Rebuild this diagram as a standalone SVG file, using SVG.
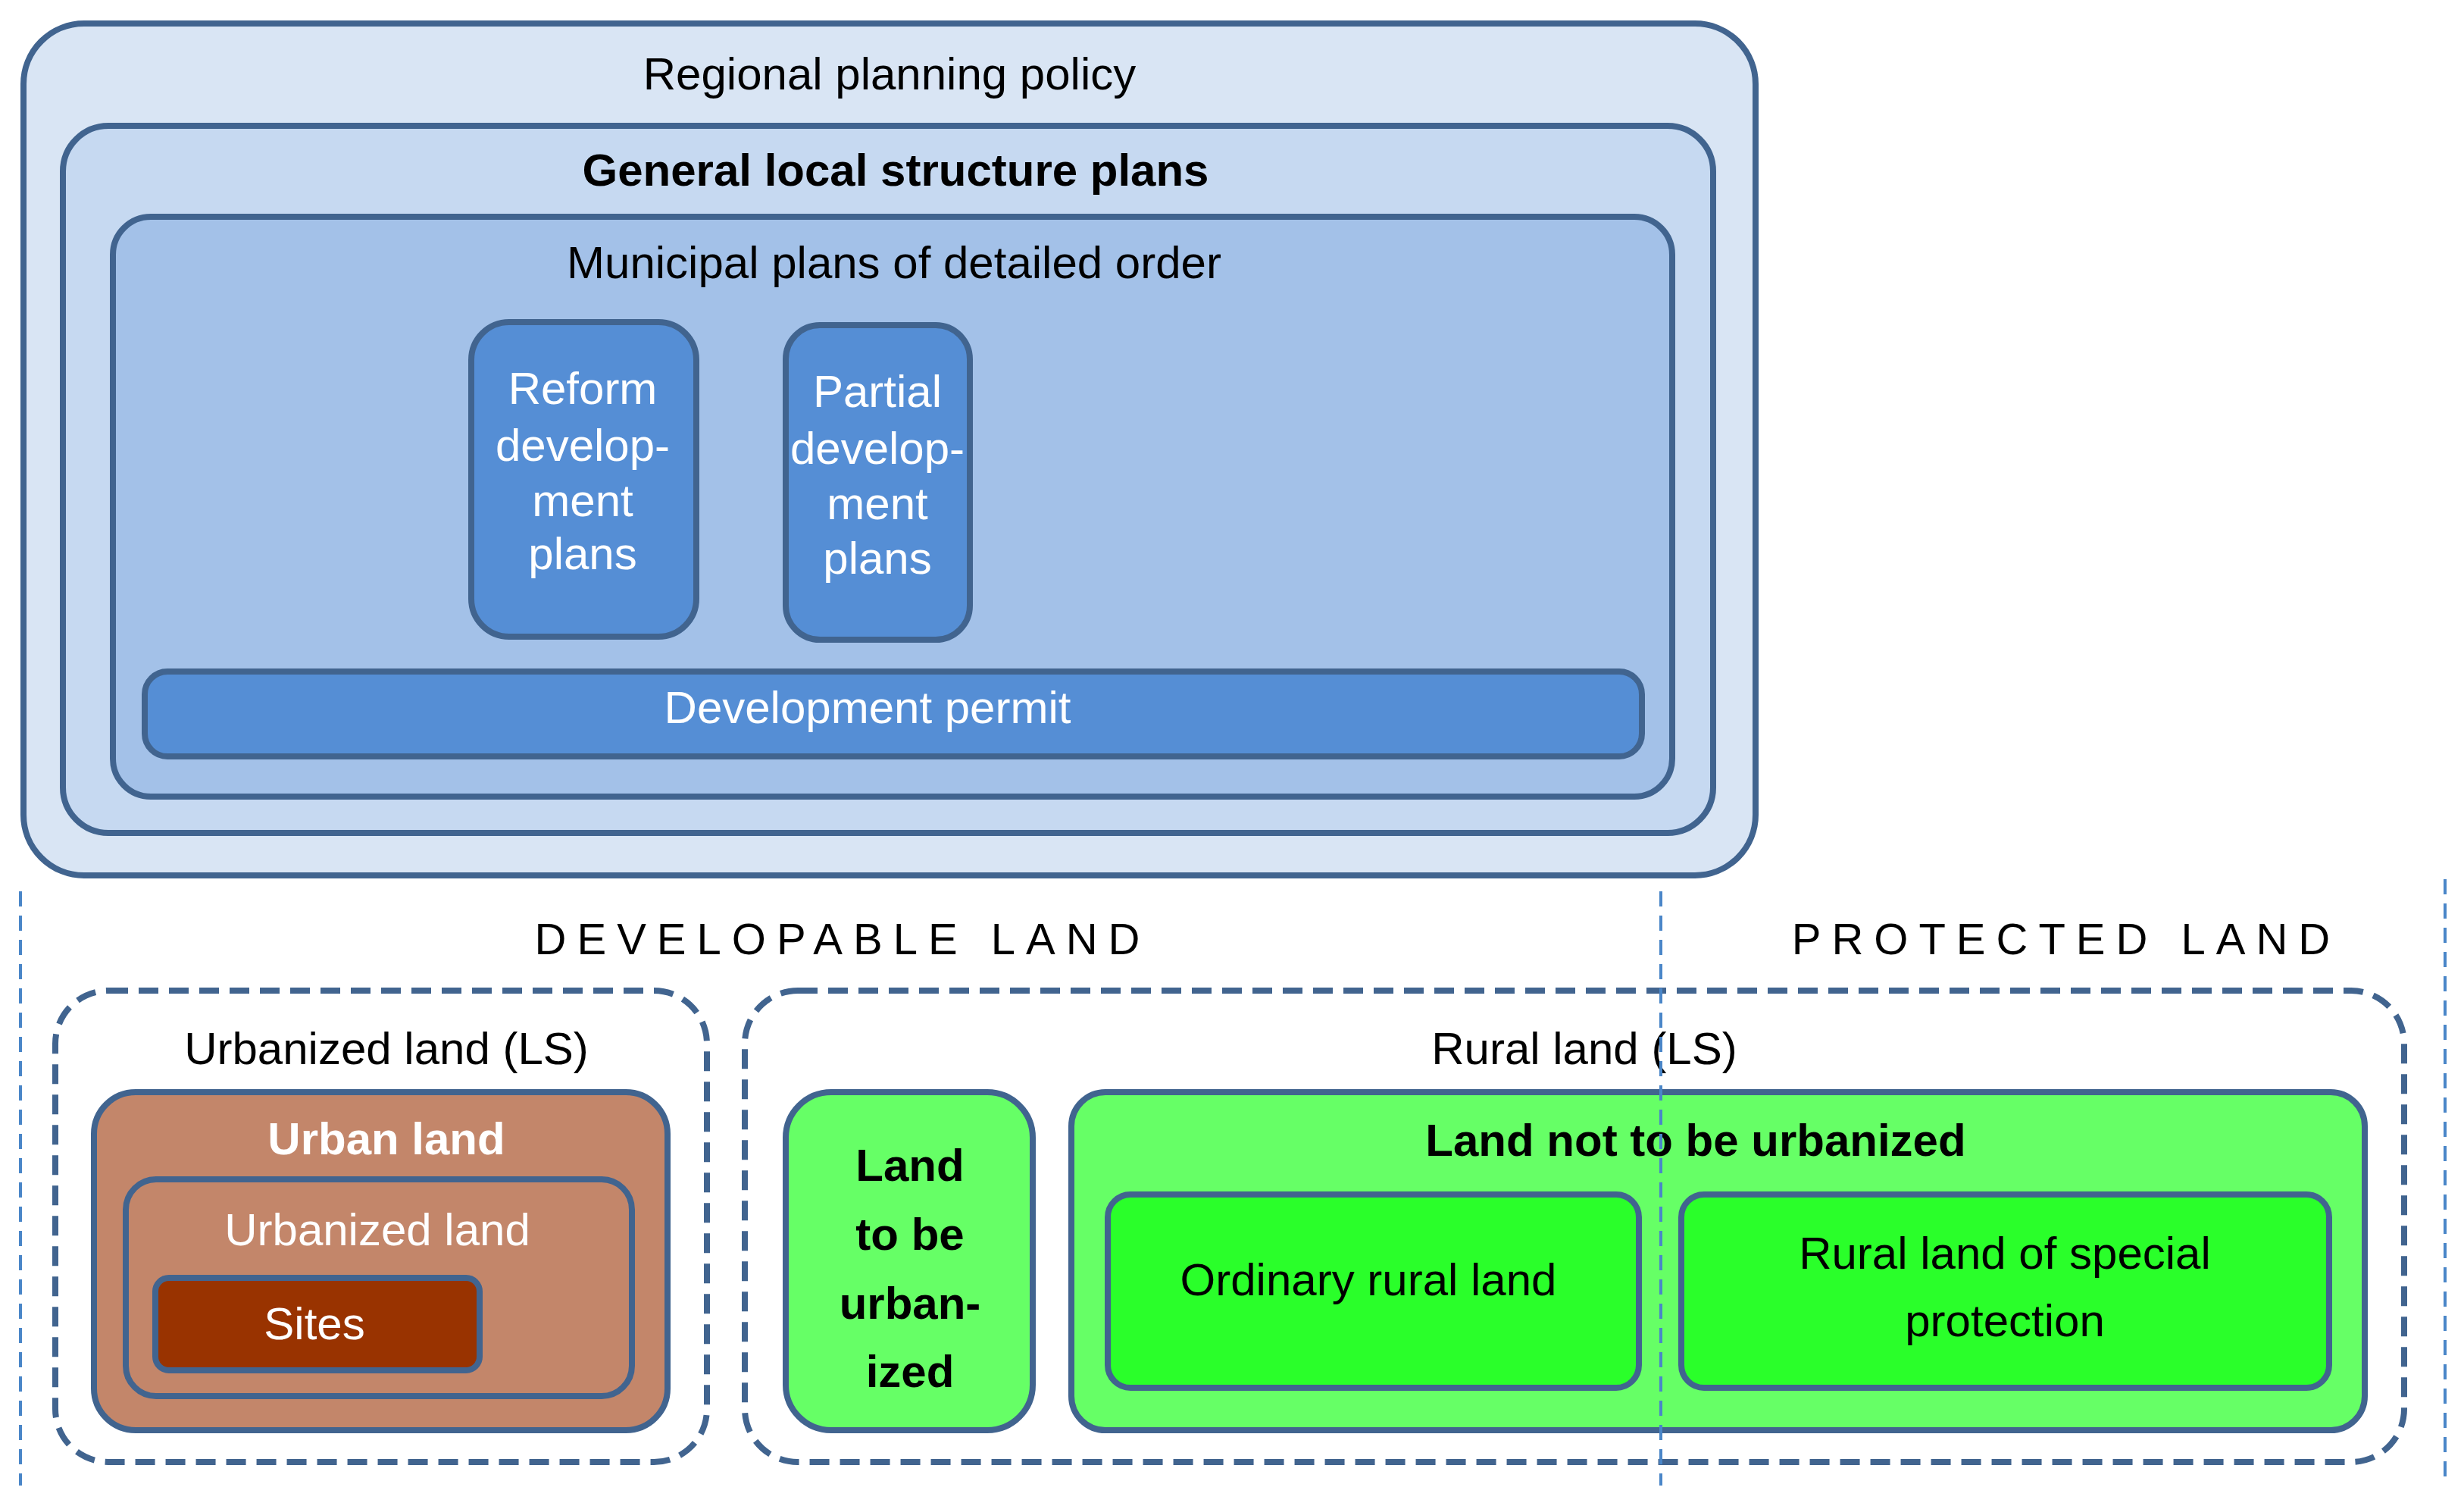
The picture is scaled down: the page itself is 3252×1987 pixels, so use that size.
<svg xmlns="http://www.w3.org/2000/svg" width="3252" height="1987" viewBox="0 0 3252 1987">
<style>
text{font-family:"Liberation Sans",Arial,sans-serif;text-anchor:middle;dominant-baseline:central}
.b{stroke:#41648f;stroke-width:8}
.d{fill:none;stroke:#41648f;stroke-width:8;stroke-dasharray:26 14}
.v{stroke:#4a86c8;stroke-width:4;stroke-dasharray:20 12}
.w{fill:#fff}
</style>
<rect width="3252" height="1987" fill="#fff"/>
<g id="regional"><rect class="b" x="31" y="31" width="2286" height="1124" rx="80" fill="#d9e5f4"/><text x="1174" y="97" font-size="60">Regional planning policy</text></g>
<g id="general"><rect class="b" x="83" y="166" width="2178" height="933" rx="60" fill="#c6d9f1"/><text x="1182" y="224" font-size="60" font-weight="bold">General local structure plans</text></g>
<g id="municipal"><rect class="b" x="149" y="286" width="2058" height="765" rx="50" fill="#a3c1e8"/><text x="1180" y="346" font-size="60">Municipal plans of detailed order</text></g>
<g id="reform"><rect class="b" x="622" y="425" width="297" height="415" rx="50" fill="#558ed5"/>
<text class="w" font-size="60"><tspan x="769" y="512">Reform</tspan><tspan x="769" y="587">develop-</tspan><tspan x="769" y="660">ment</tspan><tspan x="769" y="730">plans</tspan></text></g>
<g id="partial"><rect class="b" x="1037" y="429" width="243" height="415" rx="45" fill="#558ed5"/>
<text class="w" font-size="60"><tspan x="1158" y="516">Partial</tspan><tspan x="1158" y="591">develop-</tspan><tspan x="1158" y="664">ment</tspan><tspan x="1158" y="736">plans</tspan></text></g>
<g id="permit"><rect class="b" x="191" y="886" width="1976" height="112" rx="30" fill="#558ed5"/><text class="w" x="1145" y="933" font-size="60">Development permit</text></g>
<g id="labels">
<text x="1112" y="1238" font-size="58" letter-spacing="14">DEVELOPABLE LAND</text>
<text x="2727" y="1238" font-size="58" letter-spacing="14">PROTECTED LAND</text></g>
<g id="urbanizedLS"><rect class="d" x="73" y="1307" width="860" height="622" rx="70"/><text x="510" y="1383" font-size="60">Urbanized land (LS)</text></g>
<g id="urban"><rect class="b" x="124" y="1441" width="757" height="446" rx="55" fill="#c3866a"/><text class="w" x="510" y="1502" font-size="60" font-weight="bold">Urban land</text></g>
<g id="urbanized"><rect class="b" x="166" y="1556" width="668" height="286" rx="40" fill="#c3866a"/><text class="w" x="498" y="1622" font-size="60">Urbanized land</text></g>
<g id="sites"><rect class="b" x="205" y="1686" width="428" height="122" rx="18" fill="#993300"/><text class="w" x="415" y="1746" font-size="60">Sites</text></g>
<g id="ruralLS"><rect class="d" x="983" y="1307" width="2190" height="622" rx="70"/><text x="2091" y="1383" font-size="60">Rural land (LS)</text></g>
<g id="tobe"><rect class="b" x="1037" y="1441" width="326" height="446" rx="60" fill="#66ff66"/>
<text font-size="60" font-weight="bold"><tspan x="1201" y="1537">Land</tspan><tspan x="1201" y="1628">to be</tspan><tspan x="1201" y="1719">urban-</tspan><tspan x="1201" y="1809">ized</tspan></text></g>
<g id="notto"><rect class="b" x="1414" y="1441" width="1707" height="446" rx="45" fill="#66ff66"/><text x="2238" y="1504" font-size="60" font-weight="bold">Land not to be urbanized</text></g>
<g id="ordinary"><rect class="b" x="1462" y="1576" width="701" height="255" rx="30" fill="#2aff2a"/><text x="1806" y="1688" font-size="60">Ordinary rural land</text></g>
<g id="special"><rect class="b" x="2219" y="1576" width="855" height="255" rx="30" fill="#2aff2a"/>
<text font-size="60"><tspan x="2646" y="1653">Rural land of special</tspan><tspan x="2646" y="1742">protection</tspan></text></g>
<g id="connectors">
<line class="v" x1="27" y1="1176" x2="27" y2="1960"/>
<line class="v" x1="2192" y1="1176" x2="2192" y2="1960"/>
<line class="v" x1="3227" y1="1160" x2="3227" y2="1960"/>
</g>
</svg>
